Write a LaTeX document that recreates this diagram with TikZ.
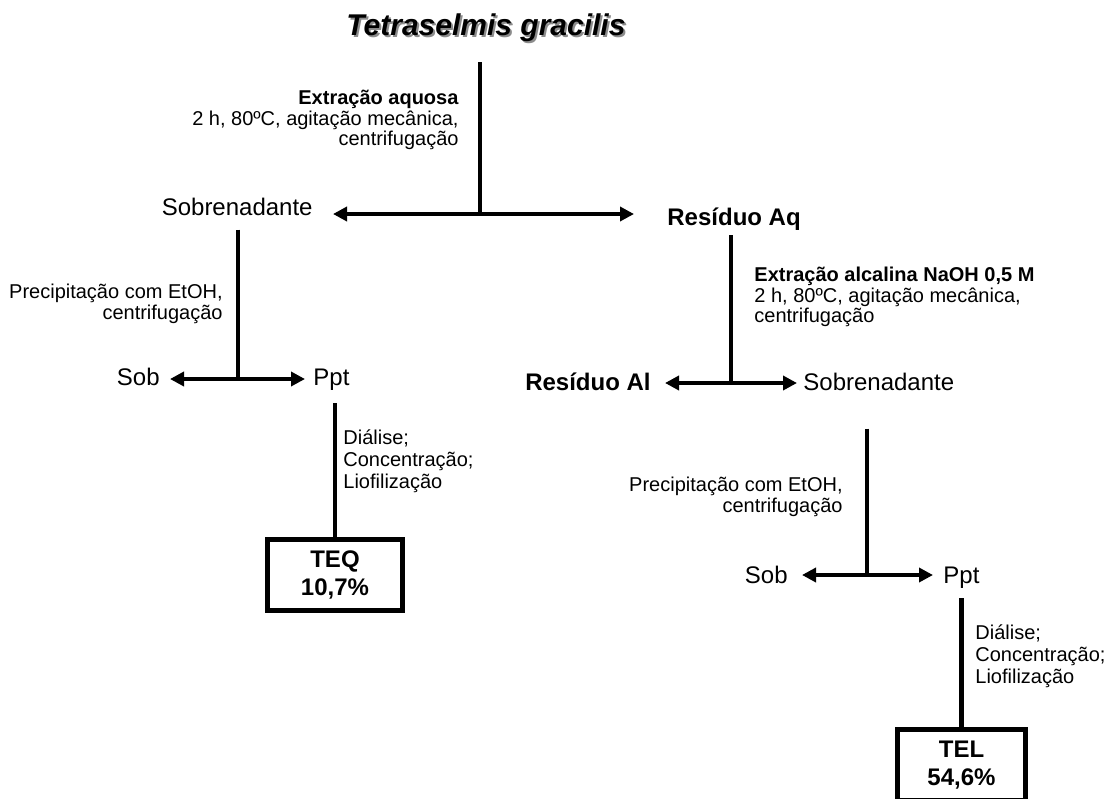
\documentclass[tikz,border=0pt]{standalone}
\usepackage{fontspec}
\setmainfont{Liberation Sans}
\usetikzlibrary{arrows.meta}

\begin{document}
\begin{tikzpicture}[x=0.5pt,y=-0.5pt,
                        lbl/.style={inner sep=0pt,font=\fontsize{12}{14}\selectfont},
                        lblb/.style={inner sep=0pt,font=\fontsize{12}{14}\selectfont\bfseries},
                        note/.style={inner sep=0pt,font=\fontsize{10}{10.2}\selectfont},
                        steps/.style={inner sep=0pt,align=left,anchor=north west,font=\fontsize{10}{11}\selectfont},
                        stem/.style={line width=2.3pt},
                        dbl/.style={line width=2.3pt,{Triangle[length=7pt,width=7pt]}-{Triangle[length=7pt,width=7pt]}},
                        result/.style={draw,line width=2.5pt,inner sep=0pt,minimum height=35.5pt,align=center,font=\fontsize{12}{14}\selectfont\bfseries}]
                        \useasboundingbox (0,0) rectangle (1108,798);
                        \coordinate (j1) at (480,214);
                        \coordinate (j2) at (238,379);
                        \coordinate (j3) at (731,383);
                        \coordinate (j4) at (867,575);
                        % title with its shadow
                        \node [lbl,font=\fontsize{15}{18}\selectfont\bfseries\itshape,text=black!45,anchor=base] (titleshadow) at (488,37) {Tetraselmis gracilis};
                        \node [lbl,font=\fontsize{15}{18}\selectfont\bfseries\itshape,anchor=base] (title) at (486,35) {Tetraselmis gracilis};
                        \node [lbl,anchor=base east] (sobre) at (313,215) {Sobrenadante};
                        \node [lblb,anchor=base west] (resaq) at (667,225) {Resíduo Aq};
                        \node [lbl,anchor=base east] (sobA) at (160,385) {Sob};
                        \node [lbl,anchor=base west] (pptA) at (313,385) {Ppt};
                        \node [lblb,anchor=base east] (resal) at (651,390) {Resíduo Al};
                        \node [lbl,anchor=base west] (sobreB) at (803,390) {Sobrenadante};
                        \node [lbl,anchor=base east] (sobB) at (788,583) {Sob};
                        \node [lbl,anchor=base west] (pptB) at (943,583) {Ppt};
                        \node [result,minimum width=67.5pt] (teq) at (335,574.5) {TEQ\\10,7\%};
                        \node [result,minimum width=64pt] (tel) at (961.5,765) {TEL\\54,6\%};
                        % step texts
                        \node [note,align=right,anchor=north east] (stepAq) at (459,90)
                        {\textbf{Extração aquosa}\\2 h, 80ºC, agitação mecânica,\\centrifugação};
                        \node [note,align=right,anchor=north east] (precA) at (223,284)
                        {Precipitação com EtOH,\\centrifugação};
                        \node [note,align=left,anchor=north west] (stepAl) at (754,267)
                        {\textbf{Extração alcalina NaOH 0,5 M}\\2 h, 80ºC, agitação mecânica,\\centrifugação};
                        \node [note,align=right,anchor=north east] (precB) at (843,477)
                        {Precipitação com EtOH,\\centrifugação};
                        \node [steps] (dialA) at (343,429) {Diálise;\\Concentração;\\Liofilização};
                        \node [steps] (dialB) at (975,624) {Diálise;\\Concentração;\\Liofilização};
                        % stems and arrows
                        \draw [stem] ([yshift=-10.3pt]title.south -| j1)--(j1);
                        \draw [dbl] ([xshift=10pt]sobre.east |- j1)--([xshift=-16.5pt]resaq.west |- j1);
                        \draw [stem] ([yshift=-7pt]sobre.south -| j2)--(j2);
                        \draw [dbl] ([xshift=5pt]sobA.east |- j2)--([xshift=-4pt]pptA.west |- j2);
                        \draw [stem] ([yshift=-6.5pt]pptA.south -| teq.north)--(teq.north);
                        \draw [stem] ([yshift=-2.5pt]resaq.south -| j3)--(j3);
                        \draw [dbl] ([xshift=7pt]resal.east |- j3)--([xshift=-3pt]sobreB.west |- j3);
                        \draw [stem] ([yshift=-19pt]sobreB.south -| j4)--(j4);
                        \draw [dbl] ([xshift=7pt]sobB.east |- j4)--([xshift=-5pt]pptB.west |- j4);
                        \draw [stem] ([yshift=-5pt]pptB.south -| tel.north)--(tel.north);
                    \end{tikzpicture}
\end{document}
